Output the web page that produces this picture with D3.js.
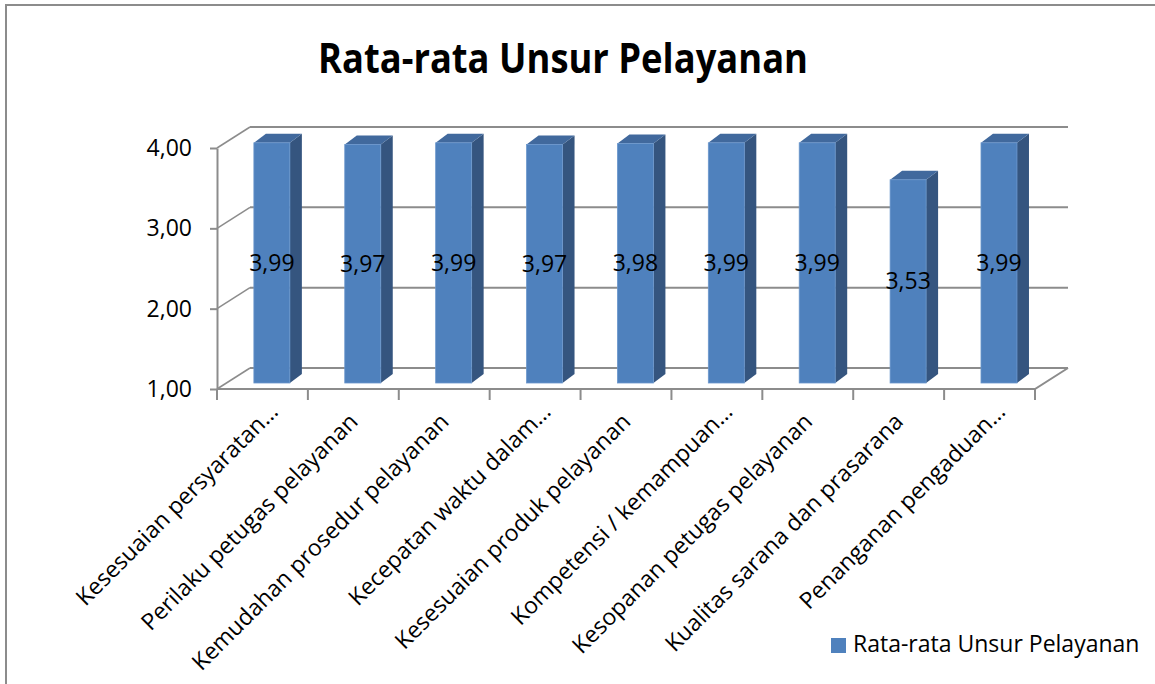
<!DOCTYPE html>
<html>
<head>
<meta charset="utf-8">
<script src="https://cdn.jsdelivr.net/npm/d3@7"></script>
<style>
  body { margin: 0; background: #fff; }
  text { font-family: "Open Sans", "Noto Sans", sans-serif; fill: #000; }
</style>
</head>
<body>
<script>
var chartTitle = "Rata-rata Unsur Pelayanan";
var seriesName = "Rata-rata Unsur Pelayanan";

var categories = [
  "Kesesuaian persyaratan…",
  "Perilaku petugas pelayanan",
  "Kemudahan prosedur pelayanan",
  "Kecepatan waktu dalam…",
  "Kesesuaian produk pelayanan",
  "Kompetensi / kemampuan…",
  "Kesopanan petugas pelayanan",
  "Kualitas sarana dan prasarana",
  "Penanganan pengaduan…"
];
var values = [3.99, 3.97, 3.99, 3.97, 3.98, 3.99, 3.99, 3.53, 3.99];
var yTicks = [1, 2, 3, 4];

var svgWidth = 1155;
var svgHeight = 684;

// front plane of the 3D box and the depth of the walls
var plot = { left: 217, right: 1035, top: 148, bottom: 389 };
var wallDx = 33, wallDy = -21;
var lift = 6;                       // bars stand a bit back into the floor
var liftDx = lift * wallDx / -wallDy;
var barDx = 12, barDy = -9;         // depth of each bar

var gridColor = "#8c8c8c";

var locale = d3.formatLocale({ decimal: ",", thousands: ".", grouping: [3], currency: ["", ""] });
var fmt = locale.format(".2f");

var svg = d3.select("body")
  .append("svg")
  .attr("width", svgWidth)
  .attr("height", svgHeight);

// outer chart border
svg.append("rect")
  .attr("x", 6).attr("y", 5)
  .attr("width", 1300).attr("height", 900)
  .attr("fill", "#fff")
  .attr("stroke", gridColor)
  .attr("stroke-width", 2);

var x = d3.scaleBand()
  .domain(categories)
  .range([plot.left, plot.right])
  .padding(0);

var y = d3.scaleLinear()
  .domain([1, 4])
  .range([plot.bottom, plot.top]);

// back wall gridlines
svg.append("g").selectAll("line")
  .data(yTicks)
  .enter().append("line")
  .attr("x1", plot.left + wallDx)
  .attr("x2", plot.right + wallDx)
  .attr("y1", function(d) { return y(d) + wallDy; })
  .attr("y2", function(d) { return y(d) + wallDy; })
  .attr("stroke", gridColor)
  .attr("stroke-width", 2);

// side wall diagonals
svg.append("g").selectAll("line")
  .data(yTicks)
  .enter().append("line")
  .attr("x1", plot.left)
  .attr("x2", plot.left + wallDx)
  .attr("y1", function(d) { return y(d); })
  .attr("y2", function(d) { return y(d) + wallDy; })
  .attr("stroke", gridColor)
  .attr("stroke-width", 1.5);

// floor front + right edge
svg.append("path")
  .attr("d", "M" + plot.left + "," + plot.bottom + "H" + plot.right +
    "L" + (plot.right + wallDx) + "," + (plot.bottom + wallDy))
  .attr("fill", "none")
  .attr("stroke", gridColor)
  .attr("stroke-width", 2);

// y axis
var leftAxis = d3.axisLeft(y)
  .tickValues(yTicks)
  .tickFormat(fmt)
  .tickSize(7)
  .tickSizeOuter(0)
  .tickPadding(18);

var yAxis = svg.append("g")
  .attr("transform", "translate(" + plot.left + ",0)")
  .call(leftAxis);
yAxis.select(".domain").attr("stroke", gridColor).attr("stroke-width", 2);
yAxis.selectAll(".tick line").attr("stroke", gridColor).attr("stroke-width", 2);
yAxis.selectAll(".tick text")
  .style("font-family", "'Open Sans', sans-serif")
  .style("font-size", "23px")
  .attr("fill", "#000");

// x ticks at the band edges
var xEdges = categories.map(function(c) { return x(c); }).concat([plot.right]);
svg.append("g").selectAll("line")
  .data(xEdges)
  .enter().append("line")
  .attr("x1", function(d) { return d; })
  .attr("x2", function(d) { return d; })
  .attr("y1", plot.bottom)
  .attr("y2", plot.bottom + 11)
  .attr("stroke", gridColor)
  .attr("stroke-width", 2);

// bars
var barW = x.bandwidth() * 0.396;
var bars = svg.append("g").selectAll("g")
  .data(values)
  .enter().append("g");

function barX(d, i) { return x(categories[i]) + (x.bandwidth() - barW) / 2 + liftDx; }
function barTop(d) { return y(d) - lift; }
var barBottom = y(1) - lift;

bars.append("path")
  .attr("d", function(d, i) {
    var x0 = barX(d, i) + barW, t = barTop(d);
    return "M" + x0 + "," + barBottom + "L" + (x0 + barDx) + "," + (barBottom + barDy) +
      "L" + (x0 + barDx) + "," + (t + barDy) + "L" + x0 + "," + t + "Z";
  })
  .attr("fill", "#35557f");

bars.append("path")
  .attr("d", function(d, i) {
    var x0 = barX(d, i), t = barTop(d);
    return "M" + x0 + "," + t + "L" + (x0 + barDx) + "," + (t + barDy) +
      "L" + (x0 + barW + barDx) + "," + (t + barDy) + "L" + (x0 + barW) + "," + t + "Z";
  })
  .attr("fill", "#41699d");

bars.append("rect")
  .attr("x", barX)
  .attr("y", barTop)
  .attr("width", barW)
  .attr("height", function(d) { return barBottom - barTop(d); })
  .attr("fill", "#4f81bd")
  .attr("stroke", "#6b97cc")
  .attr("stroke-width", 0.8);

// value labels in the middle of each bar
bars.append("text")
  .attr("x", function(d, i) { return barX(d, i) + barW / 2; })
  .attr("y", function(d) { return (barTop(d) + barBottom) / 2; })
  .attr("dy", "0.35em")
  .attr("text-anchor", "middle")
  .style("font-size", "23px")
  .text(function(d) { return fmt(d); });

// rotated category labels
svg.append("g").selectAll("text")
  .data(categories)
  .enter().append("text")
  .attr("text-anchor", "end")
  .attr("transform", function(d) {
    var cx = x(d) + x.bandwidth() / 2 + 6;
    var cy = plot.bottom + 34;
    if (d.indexOf("…") >= 0) { cx += 11; cy -= 10; }
    return "translate(" + cx + "," + cy + ") rotate(-45)";
  })
  .style("font-size", "23px")
  .text(function(d) { return d; });

// title
svg.append("text")
  .attr("x", 563)
  .attr("y", 73)
  .attr("text-anchor", "middle")
  .attr("textLength", 490)
  .attr("lengthAdjust", "spacingAndGlyphs")
  .style("font-size", "42px")
  .style("font-weight", "bold")
  .text(chartTitle);

// legend
var legend = svg.append("g").attr("transform", "translate(831,638)");
legend.append("rect")
  .attr("width", 15).attr("height", 15)
  .attr("fill", "#4f81bd");
legend.append("text")
  .attr("x", 22).attr("y", 14)
  .style("font-size", "23px")
  .text(seriesName);
</script>
</body>
</html>
